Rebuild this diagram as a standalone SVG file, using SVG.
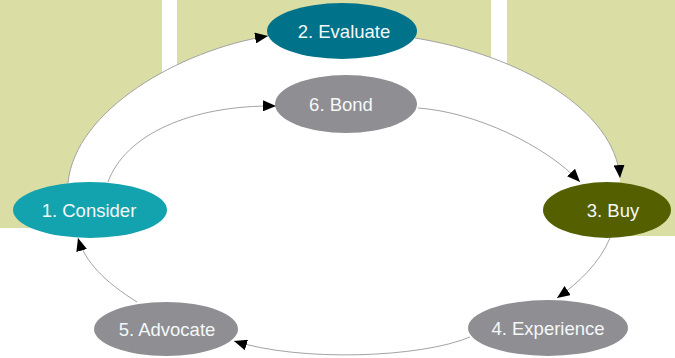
<svg xmlns="http://www.w3.org/2000/svg" width="675" height="358" viewBox="0 0 675 358">
<defs>
<style>
.panel{fill:#dbdea4}
.edge{fill:none;stroke:#a3a3a3;stroke-width:1;marker-end:url(#arr)}
.lbl{font-family:"Liberation Sans",Arial,sans-serif;font-size:18.5px;fill:#f4f8f8;text-anchor:middle}
.gray{fill:#8f8e93}
</style>
<marker id="arr" viewBox="0 0 13 11" refX="13" refY="5.5" markerWidth="13" markerHeight="11" markerUnits="userSpaceOnUse" orient="auto">
<path d="M0,0 L13,5.5 L0,11 Z" fill="#000"/>
</marker>
</defs>
<rect width="675" height="358" fill="#fff"/>
<g id="background">
<rect class="panel" x="0" y="0" width="162" height="228"/>
<rect class="panel" x="177" y="0" width="314" height="240"/>
<rect class="panel" x="507" y="0" width="168" height="236"/>
<path d="M68,183 C75,110 180,50 268,36 L415,38 C520,55 615,110 620,178 L620,245 L68,245 Z" fill="#fff"/>
</g>
<g id="connectors">
<path class="edge" d="M68,183 C75,110 180,50 268,36"/>
<path class="edge" d="M415,38 C520,55 615,110 620,178"/>
<path class="edge" d="M610,238 C600,262 580,282 557,298"/>
<path class="edge" d="M470,337 C420,358 300,362 234,341"/>
<path class="edge" d="M137,302 C105,282 85,262 78,238"/>
<path class="edge" d="M108,182 C125,135 190,105 276,106"/>
<path class="edge" d="M418,108 C475,112 545,145 580,182"/>
</g>
<g id="n1">
<ellipse cx="90" cy="210" rx="77" ry="28" fill="#12a3ae"/>
<text class="lbl" x="89" y="217">1. Consider</text>
</g>
<g id="n2">
<ellipse cx="342" cy="31" rx="75" ry="28" fill="#00728a"/>
<text class="lbl" x="344" y="38">2. Evaluate</text>
</g>
<g id="n3">
<ellipse cx="607" cy="210" rx="64" ry="28" fill="#546000"/>
<text class="lbl" x="613" y="217">3. Buy</text>
</g>
<g id="n4">
<ellipse class="gray" cx="548" cy="328" rx="80" ry="28"/>
<text class="lbl" x="548" y="335">4. Experience</text>
</g>
<g id="n5">
<ellipse class="gray" cx="166" cy="329" rx="72" ry="27"/>
<text class="lbl" x="167" y="336">5. Advocate</text>
</g>
<g id="n6">
<ellipse class="gray" cx="346" cy="104" rx="71" ry="29"/>
<text class="lbl" x="341" y="111">6. Bond</text>
</g>
</svg>
